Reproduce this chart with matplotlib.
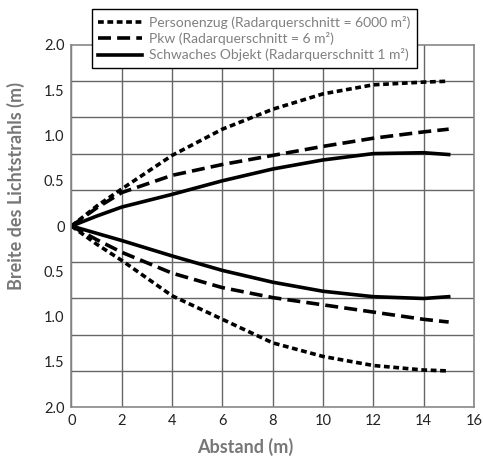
import matplotlib.pyplot as plt
import numpy as np
from matplotlib.ticker import FixedLocator, FuncFormatter

plt.rcParams['font.family'] = ['Lato', 'DejaVu Sans']

# distance (m)
abstand = [0, 1, 2, 4, 6, 8, 10, 12, 14, 15]

# beam width, upper and lower edge
zug_oben = [0, 0.22, 0.41, 0.78, 1.07, 1.29, 1.46, 1.56, 1.59, 1.60]
zug_unten = [0, -0.20, -0.38, -0.77, -1.03, -1.29, -1.44, -1.54, -1.59, -1.60]
pkw_oben = [0, 0.20, 0.37, 0.56, 0.68, 0.78, 0.88, 0.97, 1.04, 1.07]
pkw_unten = [0, -0.15, -0.29, -0.52, -0.68, -0.79, -0.87, -0.95, -1.03, -1.06]
obj_oben = [0, 0.11, 0.21, 0.35, 0.50, 0.63, 0.73, 0.80, 0.81, 0.79]
obj_unten = [0, -0.08, -0.16, -0.33, -0.49, -0.62, -0.72, -0.78, -0.80, -0.78]

labels = ["Personenzug (Radarquerschnitt = 6000 m²)",
          "Pkw (Radarquerschnitt = 6 m²)",
          "Schwaches Objekt (Radarquerschnitt 1 m²)"]

fig = plt.figure(figsize=(4.83, 4.59), dpi=100)
ax = fig.add_axes([0.148, 0.113, 0.833, 0.789])

lw = 2.6
dots = (1.6, 1.0)
dash = (3.6, 1.7)
l1, = ax.plot(abstand, zug_oben, color="black", lw=lw, dashes=dots)
ax.plot(abstand, zug_unten, color="black", lw=lw, dashes=dots)
l2, = ax.plot(abstand, pkw_oben, color="black", lw=lw, dashes=dash)
ax.plot(abstand, pkw_unten, color="black", lw=lw, dashes=dash)
l3, = ax.plot(abstand, obj_oben, color="black", lw=lw)
ax.plot(abstand, obj_unten, color="black", lw=lw)

ax.set_xlim(0, 16)
ax.set_ylim(-2, 2)
ax.set_xticks(np.arange(0, 17, 2))
ax.yaxis.set_major_locator(FixedLocator(np.arange(-2, 2.01, 0.5)))
ax.yaxis.set_minor_locator(FixedLocator(np.arange(-2, 2.01, 0.4)))
ax.yaxis.set_major_formatter(FuncFormatter(lambda v, p: "0" if abs(v) < 1e-9 else "%.1f" % abs(v)))

ax.grid(True, axis="x", color="#666666", lw=1)
ax.grid(True, axis="y", which="minor", color="#666666", lw=1)
ax.grid(False, axis="y", which="major")
ax.tick_params(which="both", length=0, labelsize=10.5, colors="#222222")
ax.tick_params(axis="y", pad=5)
ax.tick_params(axis="x", pad=5)

for s in ax.spines.values():
    s.set_color("#888888")
    s.set_linewidth(1.2)

ax.set_xlabel("Abstand (m)", fontsize=13, fontweight="bold", color="#777777")
ax.xaxis.set_label_coords(0.431, -0.086)
ax.set_ylabel("Breite des Lichtstrahls (m)", fontsize=13, fontweight="bold", color="#777777")
ax.yaxis.set_label_coords(-0.115, 0.61)

leg = fig.legend([l1, l2, l3], labels, loc="upper left",
                 bbox_to_anchor=(91.7 / 483, 1 - 9.3 / 459),
                 borderaxespad=0, fontsize=10, frameon=True, fancybox=False,
                 edgecolor="black", framealpha=1, handlelength=3.2,
                 labelspacing=0.25, borderpad=0.45, handletextpad=0.5)
leg.get_frame().set_linewidth(1)
for t in leg.get_texts():
    t.set_color("#808080")

fig.savefig("out.png", dpi=100)
